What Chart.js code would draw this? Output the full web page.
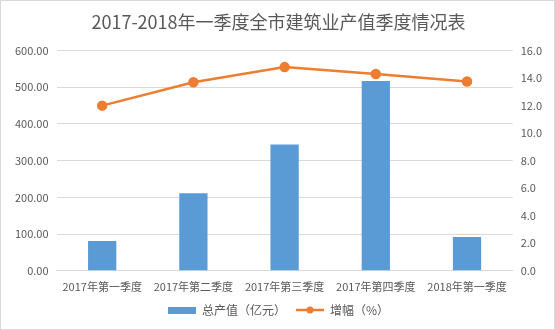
<!DOCTYPE html>
<html>
<head>
<meta charset="utf-8">
<script src="https://cdn.jsdelivr.net/npm/chart.js@4/dist/chart.umd.min.js"></script>
<style>
  html, body { margin: 0; padding: 0; background: #fff; }
  #wrap { width: 553px; height: 328px; border: 1px solid #d9d9d9; position: relative; }
</style>
</head>
<body>
<div id="wrap"><canvas id="chart"></canvas></div>
<script>
const quarters = ["2017年第一季度", "2017年第二季度", "2017年第三季度", "2017年第四季度", "2018年第一季度"];
const output = [81, 211, 344, 517, 92];
const growth = [12.0, 13.7, 14.8, 14.3, 13.75];

const FONT = "'Noto Sans CJK SC', 'Liberation Sans', sans-serif";
const GREY = "#595959";
const BLUE = "#5B9BD5";
const ORANGE = "#ED7D31";

function legendIcon(kind) {
    const c = document.createElement("canvas");
    c.width = 28; c.height = 10;
    const g = c.getContext("2d");
    if (kind === "bar") {
        g.fillStyle = BLUE;
        g.fillRect(0, 2, 28, 7);
    } else {
        g.strokeStyle = ORANGE;
        g.lineWidth = 2.5;
        g.beginPath(); g.moveTo(0, 5); g.lineTo(28, 5); g.stroke();
        g.fillStyle = ORANGE;
        g.beginPath(); g.arc(14, 5, 3.5, 0, Math.PI * 2); g.fill();
    }
    return c;
}
const icons = [legendIcon("line"), legendIcon("bar")];

new Chart(document.getElementById("chart"), {
    data: {
        labels: quarters,
        datasets: [{
            type: "line",
            label: "增幅（%）",
            data: growth,
            yAxisID: "y2",
            borderColor: ORANGE,
            backgroundColor: ORANGE,
            borderWidth: 2.5,
            pointRadius: 4,
            pointHoverRadius: 4,
            order: 0
        }, {
            type: "bar",
            label: "总产值（亿元）",
            data: output,
            yAxisID: "y",
            backgroundColor: BLUE,
            categoryPercentage: 1,
            barPercentage: 0.31,
            order: 1
        }]
    },
    options: {
        responsive: true,
        maintainAspectRatio: false,
        animation: false,
        layout: { padding: { left: 6, right: 4, top: 4, bottom: 3 } },
        plugins: {
            title: {
                display: true,
                text: "2017-2018年一季度全市建筑业产值季度情况表",
                color: GREY,
                font: { family: FONT, size: 18, weight: "normal" },
                padding: { top: 6, bottom: 18 }
            },
            legend: {
                position: "bottom",
                reverse: true,
                labels: {
                    color: GREY,
                    font: { family: FONT, size: 12 },
                    usePointStyle: true,
                    pointStyleWidth: 28,
                    boxHeight: 10,
                    padding: 10,
                    generateLabels(chart) {
                        return chart.data.datasets.map((ds, i) => ({
                            text: ds.label,
                            pointStyle: icons[i],
                            fontColor: GREY,
                            datasetIndex: i,
                            hidden: false,
                            lineWidth: 0
                        }));
                    }
                }
            },
            tooltip: { enabled: false }
        },
        scales: {
            x: {
                grid: { display: false },
                border: { color: "#d9d9d9" },
                ticks: { color: GREY, font: { family: FONT, size: 11 }, maxRotation: 0, padding: 1 }
            },
            y: {
                position: "left",
                min: 0, max: 600,
                grid: { color: "#d9d9d9", drawTicks: false },
                border: { display: false },
                ticks: {
                    stepSize: 100, color: GREY, padding: 8,
                    font: { family: FONT, size: 11 },
                    callback: v => v.toFixed(2)
                }
            },
            y2: {
                position: "right",
                min: 0, max: 16,
                grid: { display: false, drawTicks: false },
                border: { display: false },
                ticks: {
                    stepSize: 2, color: GREY, padding: 8,
                    font: { family: FONT, size: 11 },
                    callback: v => v.toFixed(1)
                }
            }
        }
    }
});
</script>
</body>
</html>
